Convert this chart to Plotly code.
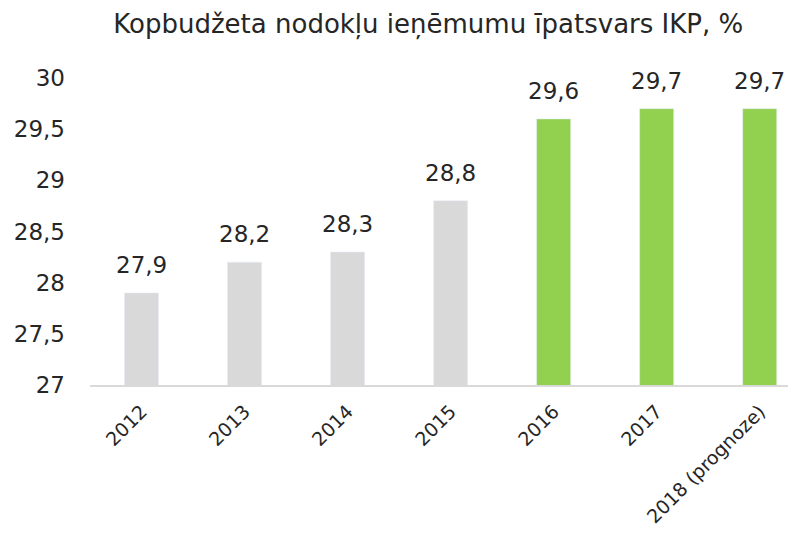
import plotly.graph_objects as go

years = ['2012', '2013', '2014', '2015', '2016', '2017', '2018 (prognoze)']
share = [27.9, 28.2, 28.3, 28.8, 29.6, 29.7, 29.7]
colors = ['#D9D9D9'] * 4 + ['#92D050'] * 3

fig = go.Figure(go.Bar(x=years, y=share, marker_color=colors, width=0.33))

# value labels above bars (x given as category index)
for i, v in enumerate(share):
    fig.add_annotation(x=i, y=v, text=f'{v:.1f}'.replace('.', ','),
                       showarrow=False, yanchor='bottom', yshift=13,
                       font=dict(size=23, color='#262626'))

# page body has an 8px margin, so offsets below are shifted by 8
fig.update_layout(
    width=796, height=536, separators=', ',
    font=dict(family='DejaVu Sans', color='#262626'),
    title=dict(text='Kopbudžeta nodokļu ieņēmumu īpatsvars IKP, %',
               x=0.528, xanchor='center', y=0.97, yanchor='middle',
               font=dict(size=26, color='#262626')),
    margin=dict(l=82, r=0, t=70, b=159),
    plot_bgcolor='white', paper_bgcolor='white', showlegend=False)
fig.update_xaxes(type='category', range=[-0.5, 6.43], tickangle=-45,
                 tickfont=dict(size=19), showline=True, linecolor='#D9D9D9',
                 linewidth=2, ticks='', ticklabelstandoff=6, automargin=False)
fig.update_yaxes(range=[27, 30], dtick=0.5, showgrid=False, zeroline=False,
                 tickfont=dict(size=23), ticklabelstandoff=24, automargin=False)

fig.write_html('out.html')
